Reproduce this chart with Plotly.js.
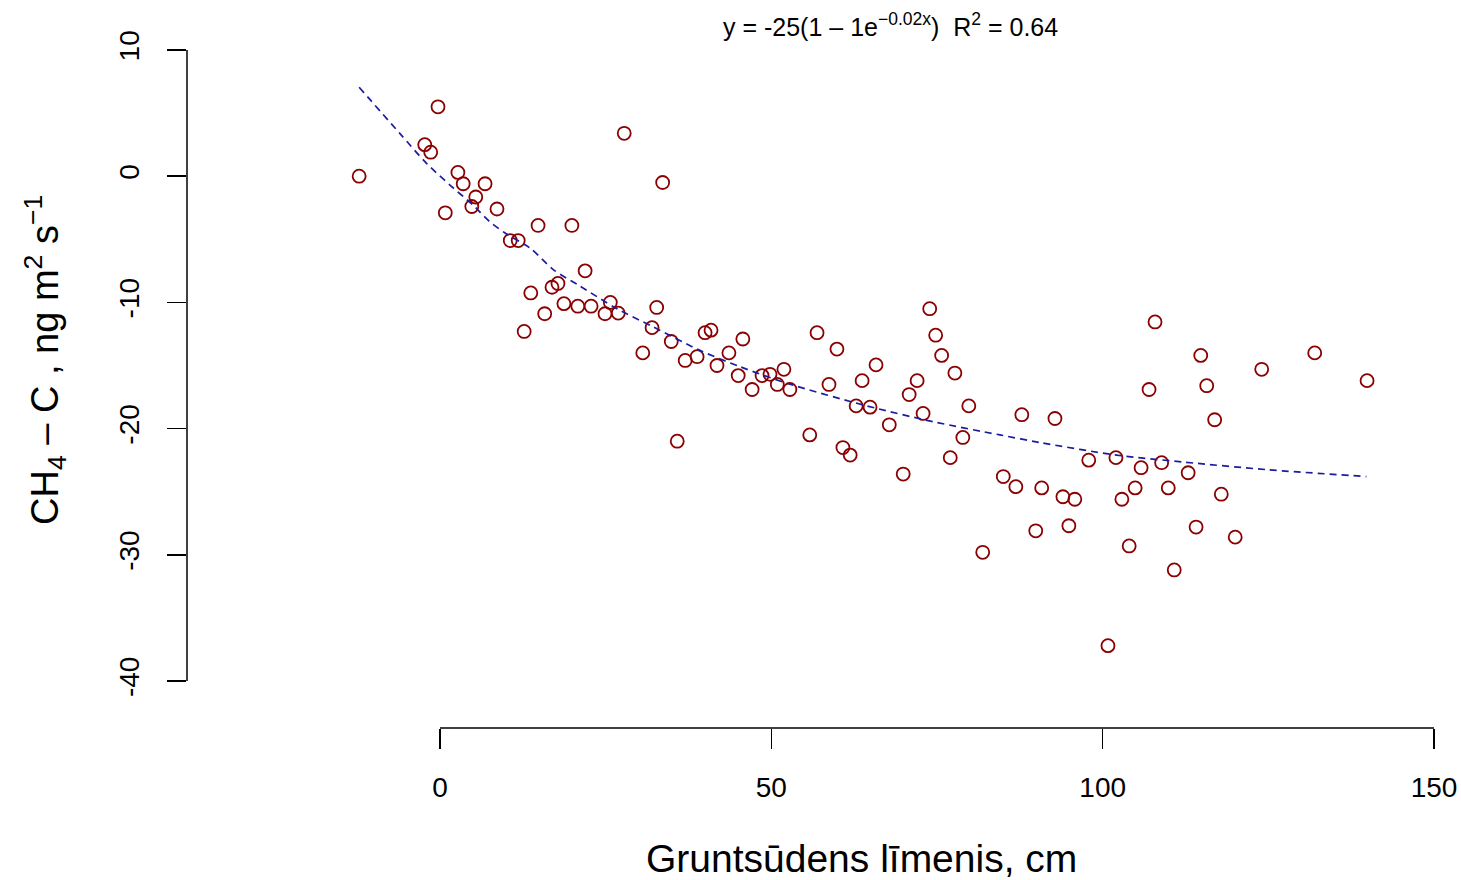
<!DOCTYPE html>
<html>
<head>
<meta charset="utf-8">
<script src="https://cdn.plot.ly/plotly-3.0.1.min.js"></script>
<style>html,body{margin:0;padding:0;background:#fff;}#chart{width:1461px;height:880px;}</style>
</head>
<body>
<div id="chart"></div>
<script>
// Groundwater level (cm) for each measurement
const groundwaterLevel = [
  -12.2, -0.3, -2.3, -1.4, 0.8, 2.7, 3.5, 4.8, 5.4, 6.8,
  8.6, 10.6, 11.8, 14.8, 19.9, 12.7, 13.7, 15.8, 16.9, 17.8,
  18.7, 20.8, 21.9, 22.8, 24.9, 25.7, 26.9, 27.8, 30.6, 32.0,
  32.7, 33.6, 34.9, 35.8, 37.0, 38.8, 40.0, 40.9, 41.8, 43.6,
  45.0, 45.7, 47.1, 48.6, 49.8, 50.9, 51.9, 52.8, 55.8, 56.9,
  58.7, 59.9, 60.8, 61.9, 62.8, 63.7, 64.9, 65.8, 67.8, 69.9,
  70.8, 72.0, 72.9, 73.9, 74.8, 75.7, 77.0, 77.7, 78.9, 79.8,
  81.9, 85.0, 86.9, 87.8, 89.9, 90.8, 92.8, 94.0, 94.9, 95.8,
  97.9, 100.8, 102.0, 102.9, 104.0, 104.9, 105.8, 107.0, 107.9, 108.9,
  109.9, 110.8, 112.9, 114.1, 114.8, 115.7, 116.9, 117.9, 120.0, 124.0,
  132.0, 139.9
];
// CH4-C flux (ng m2 s-1) for each measurement
const ch4Flux = [
  0.0, 5.5, 2.5, 1.9, -2.9, 0.3, -0.6, -2.4, -1.65, -0.6,
  -2.6, -5.1, -5.1, -3.9, -3.9, -12.3, -9.25, -10.9, -8.8, -8.5,
  -10.1, -10.3, -7.5, -10.3, -10.9, -10.0, -10.85, 3.4, -14.0, -12.0,
  -10.4, -0.5, -13.1, -21.0, -14.6, -14.3, -12.4, -12.2, -15.0, -14.0,
  -15.8, -12.9, -16.9, -15.8, -15.7, -16.5, -15.3, -16.9, -20.5, -12.4,
  -16.5, -13.7, -21.5, -22.1, -18.2, -16.2, -18.3, -14.95, -19.7, -23.6,
  -17.3, -16.2, -18.8, -10.5, -12.6, -14.2, -22.3, -15.6, -20.7, -18.2,
  -29.8, -23.8, -24.6, -18.9, -28.1, -24.7, -19.2, -25.4, -27.7, -25.6,
  -22.5, -37.2, -22.3, -25.6, -29.3, -24.7, -23.1, -16.9, -11.55, -22.7,
  -24.7, -31.2, -23.5, -27.8, -14.2, -16.6, -19.3, -25.2, -28.6, -15.3,
  -14.0, -16.2
];
// Fitted curve
const fitX = [-12.2, -6.0, -2.0, 1.5, 5.0, 7.5, 10.1, 13.6, 17.1, 21.1, 26.7, 32.2, 39.2, 45.3, 52.3, 64.4, 74.4, 84.5, 90.5, 102.1, 112.2, 124.7, 139.8];
const fitY = [7.05, 3.35, 1.0, -0.7, -2.3, -3.6, -4.6, -5.7, -7.4, -8.7, -10.5, -11.95, -13.8, -15.1, -16.4, -18.2, -19.45, -20.5, -21.1, -22.1, -22.65, -23.25, -23.8];
// Tick labels
const xTicks = [0, 50, 100, 150];
const xTickText = ['0', '50', '100', '150'];
const yTicks = [-40, -30, -20, -10, 0, 10];
const yTickText = ['-40', '-30', '-20', '-10', '0', '10'];

const W = 1461, H = 880;
// pixel calibration of the axes
const pxX0 = 440, pxX150 = 1434;   // x = 0 and x = 150
const pyY10 = 50, pyYm40 = 681;    // y = 10 and y = -40
const sx = (pxX150 - pxX0) / 150;
const sy = (pyYm40 - pyY10) / 50;
const plotL = 187, plotR = 1440, plotT = 40, plotB = 728;
const xr = [(plotL - pxX0) / sx, (plotR - pxX0) / sx];
const pyY0 = pyY10 + 10 * sy;
const yr = [(pyY0 - plotB) / sy, (pyY0 - plotT) / sy];

const FONT = 'Liberation Sans, Arial, sans-serif';

const traces = [
  {
    x: groundwaterLevel, y: ch4Flux, type: 'scatter', mode: 'markers',
    marker: {symbol: 'circle-open', size: 13, color: '#8B0000', line: {width: 1.8, color: '#8B0000'}},
    hoverinfo: 'x+y'
  },
  {
    x: fitX, y: fitY, type: 'scatter', mode: 'lines',
    line: {color: '#1c1ca0', width: 1.7, dash: '7px,5px', shape: 'spline', smoothing: 0.8},
    hoverinfo: 'skip'
  }
];

const layout = {
  width: W, height: H,
  margin: {l: 0, r: 0, t: 0, b: 0, pad: 0},
  paper_bgcolor: '#ffffff', plot_bgcolor: '#ffffff',
  showlegend: false,
  font: {family: FONT, color: '#000'},
  xaxis: {
    domain: [plotL / W, plotR / W], range: xr,
    showgrid: false, zeroline: false, showline: false,
    tickmode: 'array', tickvals: xTicks, ticktext: xTickText,
    ticks: 'outside', ticklen: 20, tickwidth: 1.5, tickcolor: '#000',
    tickfont: {family: FONT, size: 28, color: '#000'},
    ticklabelstandoff: 14,
    fixedrange: true
  },
  yaxis: {
    domain: [1 - plotB / H, 1 - plotT / H], range: yr,
    showgrid: false, zeroline: false, showline: false,
    tickmode: 'array', tickvals: yTicks, ticktext: yTickText,
    ticks: 'outside', ticklen: 19, tickwidth: 1.5, tickcolor: '#000',
    tickangle: -90,
    tickfont: {family: FONT, size: 28, color: '#000'},
    ticklabelstandoff: 17,
    fixedrange: true
  },
  shapes: [
    {type: 'line', xref: 'x', yref: 'y domain', x0: xTicks[0], x1: xTicks[xTicks.length - 1], y0: 0, y1: 0,
     line: {color: '#000', width: 1.5}},
    {type: 'line', xref: 'x domain', yref: 'y', x0: 0, x1: 0, y0: yTicks[0], y1: yTicks[yTicks.length - 1],
     line: {color: '#000', width: 1.5}}
  ],
  annotations: [
    {text: 'Gruntsūdens līmenis, cm', xref: 'paper', yref: 'paper',
     x: 861 / W, y: 1 - 858 / H, xanchor: 'center', yanchor: 'middle', showarrow: false,
     font: {family: FONT, size: 39, color: '#000'}},
    {text: 'CH<sub>4</sub> – C , ng m<sup>2</sup> s<sup>−1</sup>', xref: 'paper', yref: 'paper',
     x: 45 / W, y: 1 - 360 / H, xanchor: 'center', yanchor: 'middle', showarrow: false, textangle: -90,
     font: {family: FONT, size: 38, color: '#000'}},
    {text: 'y = -25(1 – 1e<sup>−0.02x</sup>)\u00a0\u00a0R<sup>2</sup> = 0.64', xref: 'paper', yref: 'paper',
     x: 890 / W, y: 1 - 25 / H, xanchor: 'center', yanchor: 'middle', showarrow: false,
     font: {family: FONT, size: 25, color: '#000'}}
  ]
};

Plotly.newPlot('chart', traces, layout, {displayModeBar: false, staticPlot: true});
</script>
</body>
</html>
